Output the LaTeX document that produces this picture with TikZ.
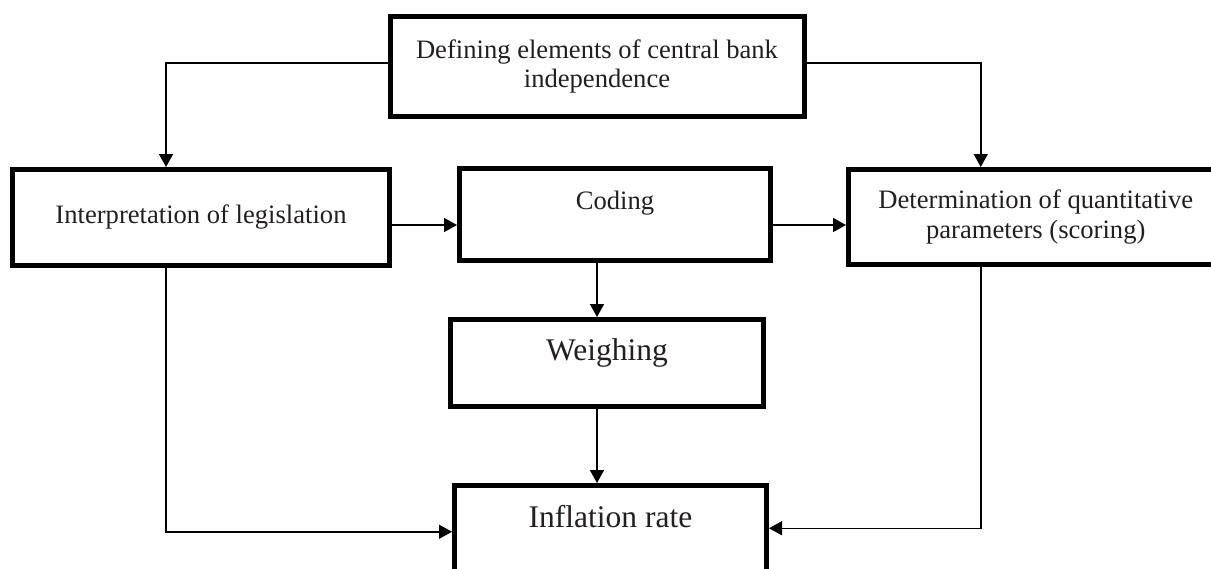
\documentclass[tikz,border=0pt]{standalone}
\usepackage{fontspec}
\setmainfont{Liberation Serif}
\usetikzlibrary{arrows.meta}
\newcommand{\fsnorm}{\fontsize{26.6}{29.5}\selectfont}
\newcommand{\fsbig}{\fontsize{31.5}{34}\selectfont}
\definecolor{txt}{HTML}{231F20}
\begin{document}
\begin{tikzpicture}[x=1pt,y=1pt,
  box/.style={draw=black, line width=5pt, inner sep=0pt, align=center, text=txt, font=\fsnorm},
  bigbox/.style={box, font=\fsbig},
  conn/.style={draw=black, line width=1.5pt},
  arr/.style={conn, -{Triangle[length=13pt,width=14pt]}}]
\useasboundingbox (0,0) rectangle (1211,-568);
\begin{scope}
\clip (0,0) rectangle (1211,-568);
\node[box, minimum width=414, minimum height=99.5] (top) at (597,-66.25)
  {Defining elements of central bank\\independence};
\node[box, minimum width=377, minimum height=95.5] (left) at (201,-217.25)
  {Interpretation of legislation};
\node[box, minimum width=311, minimum height=91.5, text height=18pt, text depth=28.5pt] (coding) at (615,-214.25)
  {Coding};
\node[box, minimum width=374.5, minimum height=95] (right) at (1035.75,-217)
  {Determination of quantitative\\parameters (scoring)};
\node[bigbox, minimum width=313, minimum height=87, text height=21pt, text depth=26.2pt] (weigh) at (607,-363)
  {Weighing};
\node[bigbox, minimum width=312, minimum height=89.5, text height=21pt, text depth=27.5pt] (infl) at (610.5,-530.25)
  {Inflation rate};
\end{scope}
\draw[arr] ([yshift=3.25]top.west) -| ([xshift=-35]left.north);
\draw[arr] ([yshift=3.25]top.east) -| ([xshift=-55]right.north);
\draw[arr] ([yshift=-7.75]left.east) -- ([yshift=-7.75]left.east -| coding.west);
\draw[arr] ([yshift=-10.75]coding.east) -- ([yshift=-10.75]coding.east -| right.west);
\draw[arr] ([xshift=-18]coding.south) -- ([xshift=-18]coding.south |- weigh.north);
\draw[arr] ([xshift=-10]weigh.south) -- ([xshift=-10]weigh.south |- infl.north);
\draw[arr] ([xshift=-35]left.south) |- ([yshift=-1.5]infl.west);
\draw[arr] ([xshift=-55]right.south) |- ([yshift=2]infl.east);
\end{tikzpicture}
\end{document}
